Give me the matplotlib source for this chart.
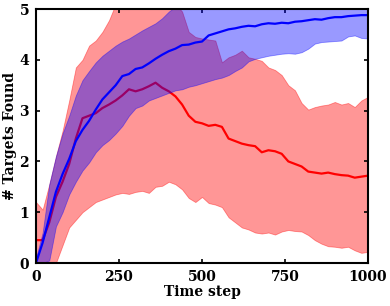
import numpy as np
import matplotlib

matplotlib.use('Agg')
import matplotlib.pyplot as plt

steps = np.arange(0, 1001, 20)

blue_mean = [0.0, 0.4, 0.9, 1.4, 1.75, 2.05, 2.4, 2.62, 2.8, 3.02,
             3.22, 3.36, 3.5, 3.68, 3.72, 3.82, 3.85, 3.93, 4.02, 4.1,
             4.17, 4.22, 4.29, 4.3, 4.34, 4.36, 4.48, 4.52, 4.56, 4.6,
             4.62, 4.65, 4.67, 4.66, 4.7, 4.72, 4.71, 4.73, 4.72, 4.75,
             4.76, 4.78, 4.8, 4.79, 4.82, 4.84, 4.84, 4.86, 4.87, 4.88,
             4.88]
blue_low = [0.0, 0.0, 0.05, 0.72, 1.0, 1.35, 1.6, 1.82, 1.98, 2.18,
            2.32, 2.42, 2.55, 2.7, 2.9, 3.05, 3.1, 3.2, 3.25, 3.3,
            3.35, 3.4, 3.42, 3.47, 3.5, 3.54, 3.58, 3.62, 3.65, 3.7,
            3.78, 3.85, 3.97, 4.02, 4.05, 4.08, 4.1, 4.12, 4.13, 4.12,
            4.15, 4.22, 4.32, 4.35, 4.36, 4.37, 4.38, 4.46, 4.48, 4.43,
            4.42]
blue_high = [0.1, 0.6, 1.55, 2.1, 2.55, 2.9, 3.3, 3.6, 3.78, 3.95,
             4.08, 4.18, 4.28, 4.36, 4.42, 4.5, 4.58, 4.65, 4.72, 4.82,
             4.95, 5.05, 5.2, 5.2, 5.2, 5.2, 5.2, 5.2, 5.2, 5.2,
             5.2, 5.2, 5.2, 5.2, 5.2, 5.2, 5.2, 5.2, 5.2, 5.2,
             5.2, 5.2, 5.2, 5.2, 5.2, 5.2, 5.2, 5.2, 5.2, 5.2,
             5.2]

red_mean = [0.45, 0.45, 0.8, 1.3, 1.6, 1.95, 2.45, 2.85, 2.9, 2.95,
            3.05, 3.12, 3.2, 3.3, 3.42, 3.38, 3.42, 3.48, 3.55, 3.45,
            3.38, 3.28, 3.12, 2.9, 2.78, 2.75, 2.7, 2.72, 2.68, 2.45,
            2.4, 2.35, 2.32, 2.3, 2.18, 2.22, 2.2, 2.15, 2.0, 1.95,
            1.9, 1.8, 1.78, 1.76, 1.78, 1.75, 1.73, 1.72, 1.68, 1.7,
            1.72]
red_low = [0.0, 0.0, 0.0, 0.0, 0.35, 0.7, 0.85, 1.0, 1.1, 1.2,
           1.25, 1.3, 1.35, 1.38, 1.36, 1.4, 1.42, 1.38, 1.5, 1.52,
           1.6, 1.55, 1.45, 1.28, 1.2, 1.3, 1.18, 1.15, 1.1, 0.9,
           0.8, 0.7, 0.66, 0.6, 0.58, 0.6, 0.56, 0.62, 0.65, 0.63,
           0.62, 0.55, 0.45, 0.38, 0.33, 0.32, 0.3, 0.32, 0.25, 0.2,
           0.22]
red_high = [1.2, 1.05, 1.55, 2.1, 2.6, 3.2, 3.85, 4.0, 4.28, 4.38,
            4.55, 4.78, 5.1, 5.2, 5.2, 5.2, 5.2, 5.2, 5.2, 5.2,
            5.2, 5.1, 4.95, 4.55, 4.45, 4.42, 4.4, 4.38, 3.95, 4.05,
            4.1, 4.18, 4.05, 4.02, 3.98, 3.85, 3.8, 3.7, 3.5, 3.4,
            3.15, 3.02, 3.07, 3.1, 3.12, 3.17, 3.12, 3.15, 3.07, 3.2,
            3.27]

x_ticks = [0, 250, 500, 750, 1000]
y_ticks = [0, 1, 2, 3, 4, 5]

plt.rcParams['font.family'] = ['DejaVu Serif']
plt.rcParams['font.weight'] = 'bold'
plt.rcParams['font.size'] = 10

fig = plt.figure(figsize=(3.9, 3.06), dpi=100)
ax = fig.add_axes([0.0923, 0.1405, 0.8513, 0.830])

# red first, blue band laid over the red line
ax.fill_between(steps, red_low, red_high, color='red', alpha=0.41,
                linewidth=0.6, zorder=1)
ax.plot(steps, red_mean, color='red', linewidth=1.6, zorder=2)
ax.fill_between(steps, blue_low, blue_high, color='blue', alpha=0.4,
                linewidth=0.6, zorder=3)
ax.plot(steps, blue_mean, color='blue', linewidth=1.6, zorder=4)

ax.set_xlim(0, 1000)
ax.set_ylim(0, 5)
ax.set_xticks(x_ticks)
ax.set_yticks(y_ticks)
ax.tick_params(direction='in', length=3, width=1.2, top=True, right=True)
ax.tick_params(axis='x', pad=5)
ax.tick_params(axis='y', pad=5)
for sp in ax.spines.values():
    sp.set_linewidth(1.5)
    sp.set_zorder(5)

ax.set_xlabel('Time step', fontweight='bold')
ax.set_ylabel('# Targets Found', fontweight='bold')
ax.xaxis.set_label_coords(0.5, -0.085)
ax.yaxis.set_label_coords(-0.058, 0.5)

fig.savefig('out.png', dpi=100)
plt.close(fig)
